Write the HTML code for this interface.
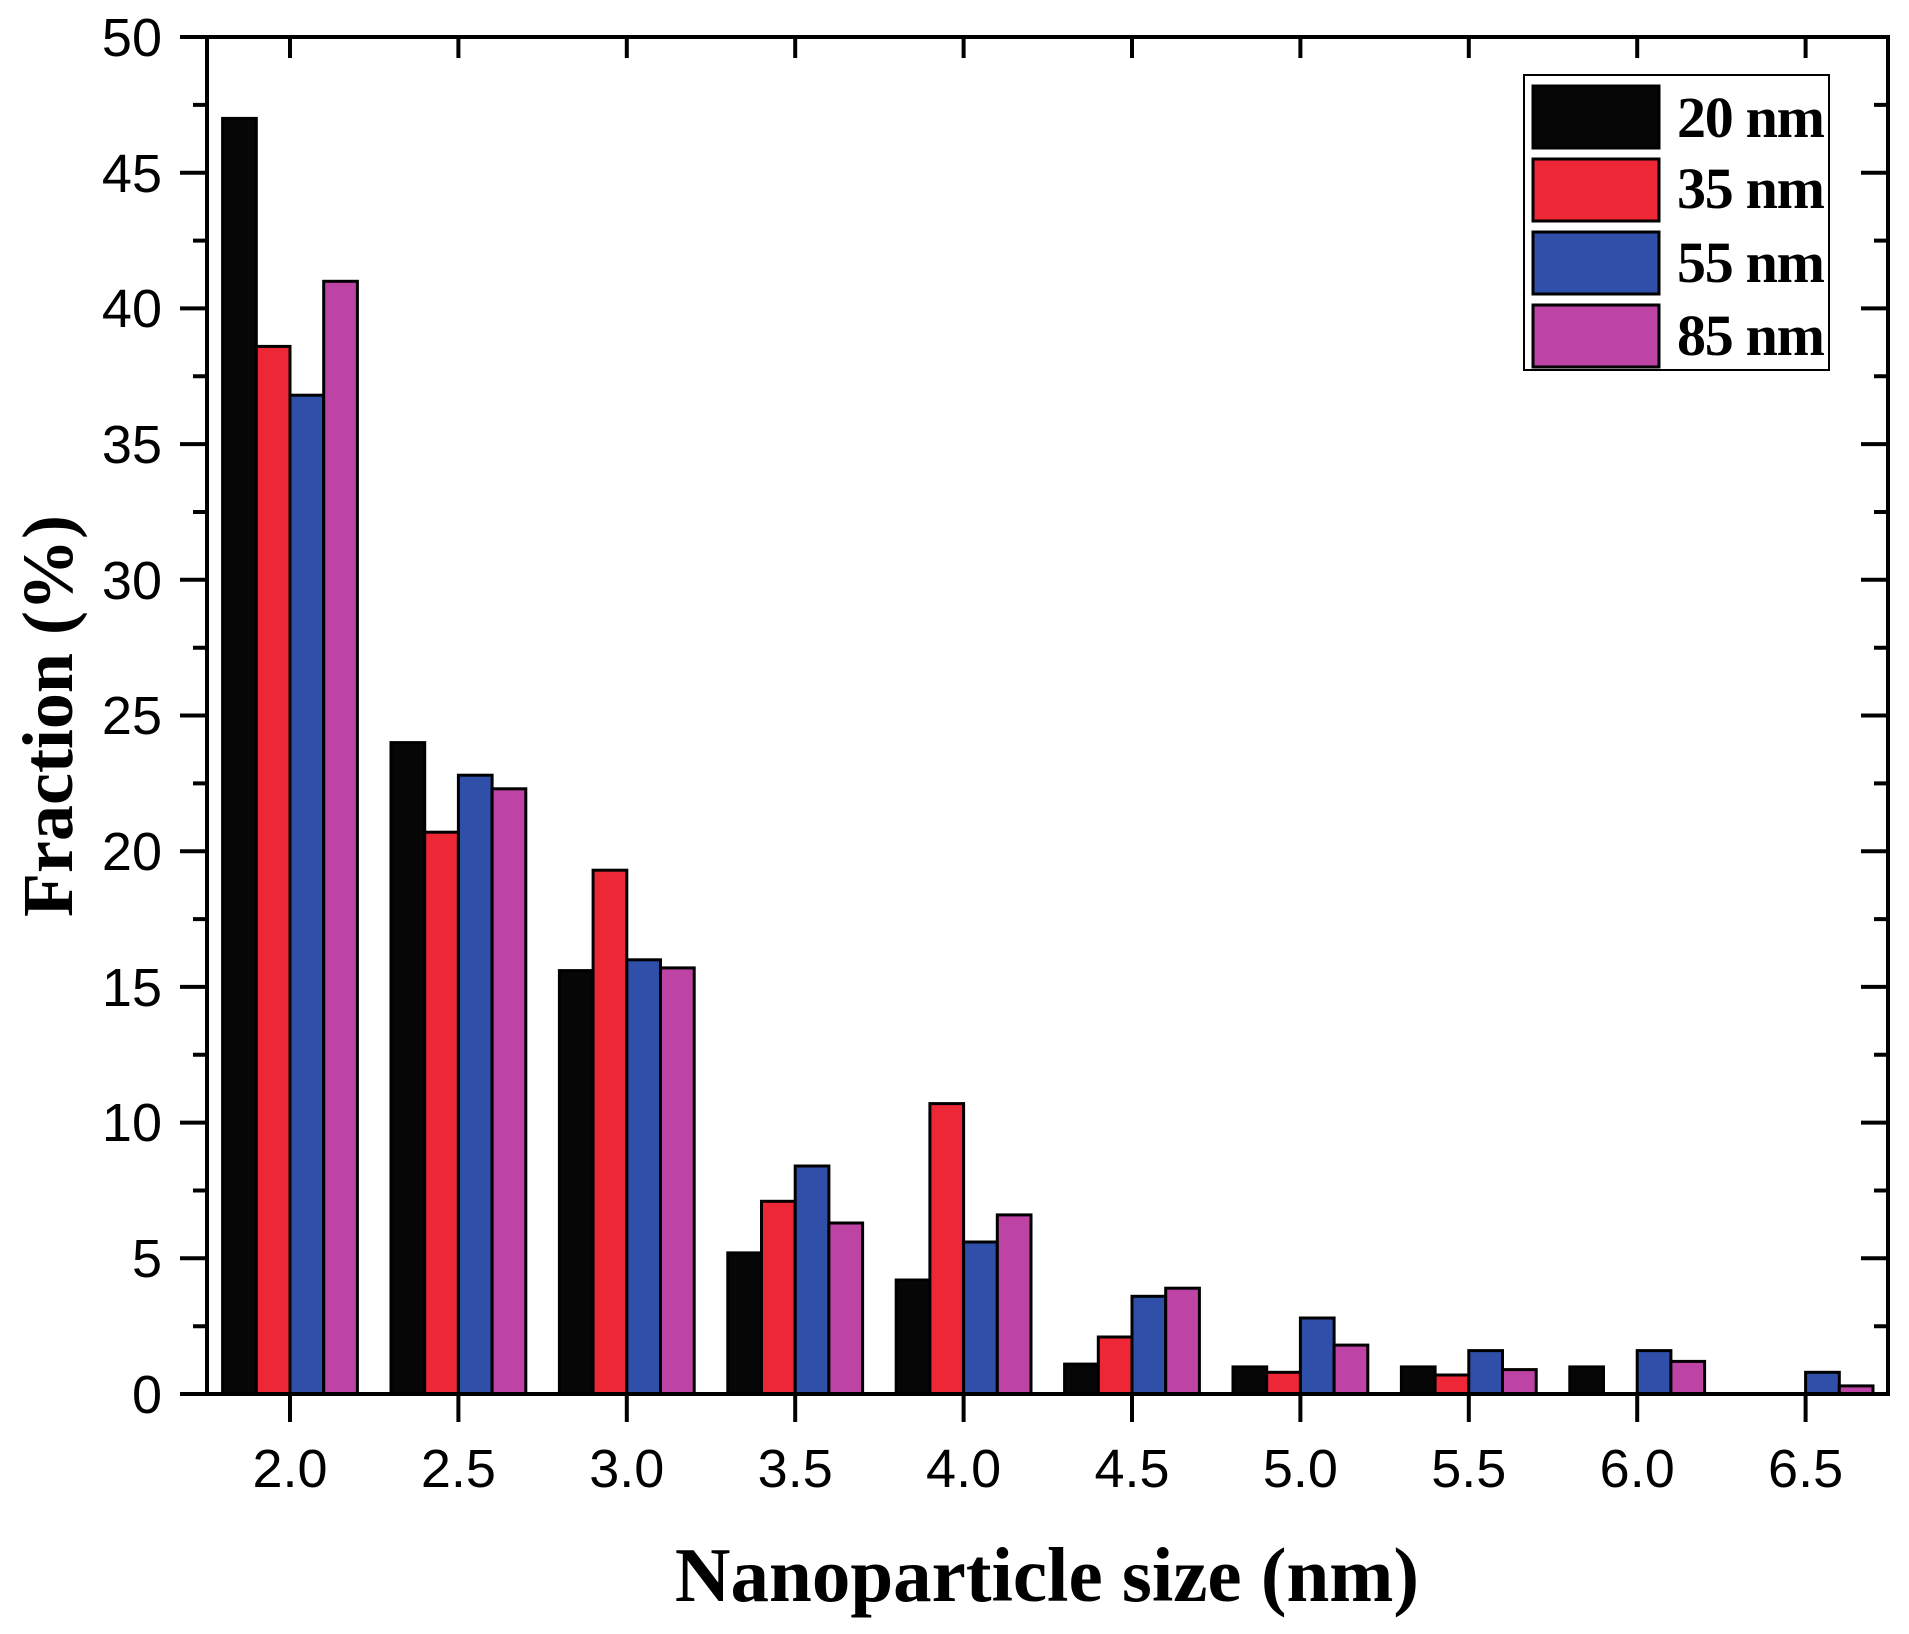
<!DOCTYPE html>
<html><head><meta charset="utf-8"><style>
html,body{margin:0;padding:0;background:#fff;}
svg{display:block;}
</style></head><body>
<svg width="1909" height="1634" viewBox="0 0 1909 1634" xmlns="http://www.w3.org/2000/svg">
<rect width="1909" height="1634" fill="#fff"/>
<g stroke="#000" stroke-width="3">
<g transform="translate(290,0)">
<rect x="-67.4" y="118.4" width="33.7" height="1275.6" fill="#060606"/>
<rect x="-33.7" y="346.4" width="33.7" height="1047.6" fill="#ee2737"/>
<rect x="0" y="395.2" width="33.7" height="998.8" fill="#2f4fa8"/>
<rect x="33.7" y="281.3" width="33.7" height="1112.7" fill="#bd44a5"/>
</g>
<g transform="translate(458.4,0)">
<rect x="-67.4" y="742.6" width="33.7" height="651.4" fill="#060606"/>
<rect x="-33.7" y="832.2" width="33.7" height="561.8" fill="#ee2737"/>
<rect x="0" y="775.2" width="33.7" height="618.8" fill="#2f4fa8"/>
<rect x="33.7" y="788.8" width="33.7" height="605.2" fill="#bd44a5"/>
</g>
<g transform="translate(626.8,0)">
<rect x="-67.4" y="970.6" width="33.7" height="423.4" fill="#060606"/>
<rect x="-33.7" y="870.2" width="33.7" height="523.8" fill="#ee2737"/>
<rect x="0" y="959.8" width="33.7" height="434.2" fill="#2f4fa8"/>
<rect x="33.7" y="967.9" width="33.7" height="426.1" fill="#bd44a5"/>
</g>
<g transform="translate(795.2,0)">
<rect x="-67.4" y="1252.9" width="33.7" height="141.1" fill="#060606"/>
<rect x="-33.7" y="1201.3" width="33.7" height="192.7" fill="#ee2737"/>
<rect x="0" y="1166" width="33.7" height="228" fill="#2f4fa8"/>
<rect x="33.7" y="1223" width="33.7" height="171" fill="#bd44a5"/>
</g>
<g transform="translate(963.6,0)">
<rect x="-67.4" y="1280" width="33.7" height="114" fill="#060606"/>
<rect x="-33.7" y="1103.6" width="33.7" height="290.4" fill="#ee2737"/>
<rect x="0" y="1242" width="33.7" height="152" fill="#2f4fa8"/>
<rect x="33.7" y="1214.9" width="33.7" height="179.1" fill="#bd44a5"/>
</g>
<g transform="translate(1132,0)">
<rect x="-67.4" y="1364.1" width="33.7" height="29.9" fill="#060606"/>
<rect x="-33.7" y="1337" width="33.7" height="57" fill="#ee2737"/>
<rect x="0" y="1296.3" width="33.7" height="97.7" fill="#2f4fa8"/>
<rect x="33.7" y="1288.2" width="33.7" height="105.8" fill="#bd44a5"/>
</g>
<g transform="translate(1300.4,0)">
<rect x="-67.4" y="1366.9" width="33.7" height="27.1" fill="#060606"/>
<rect x="-33.7" y="1372.3" width="33.7" height="21.7" fill="#ee2737"/>
<rect x="0" y="1318" width="33.7" height="76" fill="#2f4fa8"/>
<rect x="33.7" y="1345.1" width="33.7" height="48.9" fill="#bd44a5"/>
</g>
<g transform="translate(1468.8,0)">
<rect x="-67.4" y="1366.9" width="33.7" height="27.1" fill="#060606"/>
<rect x="-33.7" y="1375" width="33.7" height="19" fill="#ee2737"/>
<rect x="0" y="1350.6" width="33.7" height="43.4" fill="#2f4fa8"/>
<rect x="33.7" y="1369.6" width="33.7" height="24.4" fill="#bd44a5"/>
</g>
<g transform="translate(1637.2,0)">
<rect x="-67.4" y="1366.9" width="33.7" height="27.1" fill="#060606"/>
<rect x="0" y="1350.6" width="33.7" height="43.4" fill="#2f4fa8"/>
<rect x="33.7" y="1361.4" width="33.7" height="32.6" fill="#bd44a5"/>
</g>
<g transform="translate(1805.6,0)">
<rect x="0" y="1372.3" width="33.7" height="21.7" fill="#2f4fa8"/>
<rect x="33.7" y="1385.9" width="33.7" height="8.1" fill="#bd44a5"/>
</g>
</g>
<rect x="207" y="37" width="1681" height="1357" fill="none" stroke="#000" stroke-width="4"/>
<g stroke="#000" stroke-width="4">
<path d="M180 1394H207M180 1258.3H207M180 1122.6H207M180 986.9H207M180 851.2H207M180 715.5H207M180 579.8H207M180 444.1H207M180 308.4H207M180 172.7H207M180 37H207"/>
<path d="M193 1326.2H207M193 1190.5H207M193 1054.8H207M193 919.1H207M193 783.4H207M193 647.7H207M193 512H207M193 376.3H207M193 240.6H207M193 104.9H207"/>
<path d="M1861 1394H1888M1861 1258.3H1888M1861 1122.6H1888M1861 986.9H1888M1861 851.2H1888M1861 715.5H1888M1861 579.8H1888M1861 444.1H1888M1861 308.4H1888M1861 172.7H1888M1861 37H1888"/>
<path d="M1874 1326.2H1888M1874 1190.5H1888M1874 1054.8H1888M1874 919.1H1888M1874 783.4H1888M1874 647.7H1888M1874 512H1888M1874 376.3H1888M1874 240.6H1888M1874 104.9H1888"/>
<path d="M290 1394V1422M458.4 1394V1422M626.8 1394V1422M795.2 1394V1422M963.6 1394V1422M1132 1394V1422M1300.4 1394V1422M1468.8 1394V1422M1637.2 1394V1422M1805.6 1394V1422"/>
<path d="M290 37V58M458.4 37V58M626.8 37V58M795.2 37V58M963.6 37V58M1132 37V58M1300.4 37V58M1468.8 37V58M1637.2 37V58M1805.6 37V58"/>
</g>
<g font-family="Liberation Sans, Arial, sans-serif" font-size="54" fill="#000" text-anchor="end">
<text x="162" y="1413">0</text>
<text x="162" y="1277">5</text>
<text x="162" y="1141">10</text>
<text x="162" y="1006">15</text>
<text x="162" y="870">20</text>
<text x="162" y="734">25</text>
<text x="162" y="599">30</text>
<text x="162" y="463">35</text>
<text x="162" y="327">40</text>
<text x="162" y="192">45</text>
<text x="162" y="56">50</text>
</g>
<g font-family="Liberation Sans, Arial, sans-serif" font-size="54" fill="#000" text-anchor="middle">
<text x="290" y="1487">2.0</text>
<text x="458.4" y="1487">2.5</text>
<text x="626.8" y="1487">3.0</text>
<text x="795.2" y="1487">3.5</text>
<text x="963.6" y="1487">4.0</text>
<text x="1132" y="1487">4.5</text>
<text x="1300.4" y="1487">5.0</text>
<text x="1468.8" y="1487">5.5</text>
<text x="1637.2" y="1487">6.0</text>
<text x="1805.6" y="1487">6.5</text>
</g>
<text x="1047" y="1601" font-family="Liberation Serif, Times New Roman, serif" font-weight="bold" font-size="77" text-anchor="middle">Nanoparticle size (nm)</text>
<text transform="translate(72,716) rotate(-90)" font-family="Liberation Serif, Times New Roman, serif" font-weight="bold" font-size="72" text-anchor="middle">Fraction (%)</text>
<rect x="1524" y="75" width="305" height="295" fill="#fff" stroke="#000" stroke-width="2"/>
<g stroke="#000" stroke-width="3">
<rect x="1533" y="86" width="126" height="62" fill="#060606"/>
<rect x="1533" y="159" width="126" height="62" fill="#ee2737"/>
<rect x="1533" y="232" width="126" height="62" fill="#2f4fa8"/>
<rect x="1533" y="305" width="126" height="62" fill="#bd44a5"/>
</g>
<g font-family="Liberation Serif, Times New Roman, serif" font-weight="bold" font-size="58" fill="#000">
<text x="1677" y="137" textLength="148">20 nm</text>
<text x="1677" y="208" textLength="148">35 nm</text>
<text x="1677" y="282" textLength="148">55 nm</text>
<text x="1677" y="355" textLength="148">85 nm</text>
</g>
</svg>
</body></html>
